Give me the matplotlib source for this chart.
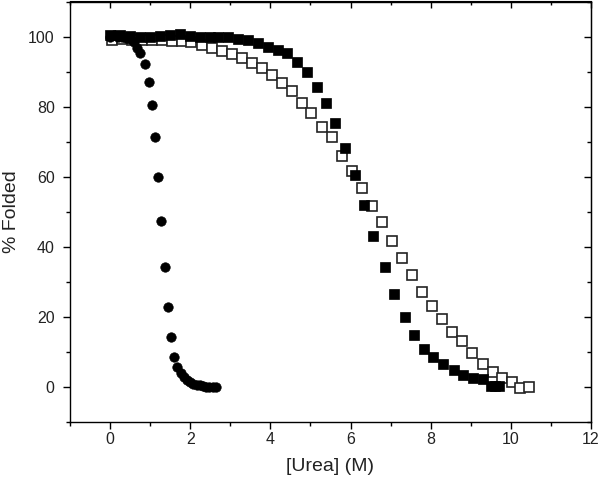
import matplotlib
matplotlib.use("Agg")
import matplotlib.pyplot as plt
from matplotlib.ticker import MultipleLocator

# ---- data ----
circ_x = [0.0, 0.1, 0.2, 0.3, 0.4, 0.5, 0.59, 0.67, 0.75, 0.87, 0.96, 1.04, 1.12, 1.19,
          1.28, 1.36, 1.44, 1.52, 1.60, 1.68, 1.76, 1.84, 1.92, 2.0, 2.08, 2.16, 2.24,
          2.32, 2.40, 2.48, 2.56, 2.64]
circ_y = [100, 100.3, 100, 99.8, 99.6, 99.2, 98.4, 96.8, 95.2, 92.2, 87.1, 80.5, 71.2, 59.8,
          47.3, 34.2, 22.7, 14.3, 8.6, 5.6, 3.8, 2.7, 1.9, 1.3, 0.9, 0.6, 0.4,
          0.2, 0.0, -0.2, -0.2, -0.1]

fill_x = [0.0, 0.25, 0.5, 0.75, 1.0, 1.25, 1.5, 1.75, 2.0, 2.25, 2.5, 2.7, 2.95, 3.2, 3.45,
          3.7, 3.95, 4.2, 4.41, 4.66, 4.91, 5.16, 5.39, 5.62, 5.86, 6.1, 6.33, 6.56, 6.86,
          7.09, 7.36, 7.59, 7.83, 8.07, 8.30, 8.57, 8.80, 9.05, 9.30, 9.5, 9.6, 9.7]
fill_y = [100.3, 100.5, 100.2, 100, 99.8, 100.2, 100.5, 100.8, 100.2, 100, 100, 99.8, 100,
          99.3, 98.9, 98.1, 97.1, 96.2, 95.2, 92.6, 89.8, 85.5, 81.0, 75.4, 68.2, 60.5, 52,
          43, 34.1, 26.4, 20.0, 14.8, 10.7, 8.4, 6.4, 4.8, 3.3, 2.4, 2.1, 0.3, 0.1, 0.2]

open_x = [0.04, 0.29, 0.54, 0.79, 1.04, 1.29, 1.54, 1.79, 2.02, 2.29, 2.54, 2.79, 3.04,
          3.29, 3.54, 3.79, 4.03, 4.28, 4.53, 4.78, 5.01, 5.30, 5.53, 5.78, 6.03, 6.28,
          6.53, 6.78, 7.03, 7.28, 7.53, 7.78, 8.04, 8.29, 8.53, 8.79, 9.04, 9.31, 9.55,
          9.78, 10.03, 10.23, 10.45]
open_y = [98.9, 99.3, 99.1, 98.9, 98.9, 98.9, 98.6, 98.6, 98.3, 97.6, 96.7, 96.0, 95.1,
          93.8, 92.4, 91.0, 89.1, 86.7, 84.3, 81.1, 78.1, 74.3, 71.3, 66.0, 61.5, 56.7,
          51.7, 47.0, 41.6, 36.7, 31.9, 27.0, 22.9, 19.3, 15.7, 13.1, 9.7, 6.5, 4.3,
          2.6, 1.3, -0.5, 0.0]

plt.rcParams['font.family'] = ['Liberation Sans', 'DejaVu Sans']

fig = plt.figure(figsize=(6.0, 4.84), dpi=100)
ax = fig.add_axes([70/600, 1 - 421.7/484, (591-70)/600, (421.7-1.5)/484])

ax.plot(open_x, open_y, 's', ms=6.5, mfc='white', mec='#222222', mew=1.2, ls='none', zorder=3)
ax.plot(fill_x, fill_y, 's', ms=7.2, mfc='black', mec='black', mew=0.5, ls='none', zorder=4)
ax.plot(circ_x, circ_y, 'o', ms=6.8, mfc='black', mec='black', mew=0.5, ls='none', zorder=5)

ax.set_xlim(-1, 12)
ax.set_ylim(-10, 110)
ax.xaxis.set_major_locator(MultipleLocator(2))
ax.xaxis.set_minor_locator(MultipleLocator(1))
ax.yaxis.set_major_locator(MultipleLocator(20))
ax.yaxis.set_minor_locator(MultipleLocator(10))

ax.tick_params(which='major', direction='out', length=5, width=1, labelsize=11.5,
               labelcolor='#222222')
ax.tick_params(axis='y', which='major', pad=6)
ax.tick_params(axis='x', which='major', pad=2.5)
ax.tick_params(which='minor', direction='out', length=2.8, width=1)
for s in ax.spines.values():
    s.set_linewidth(1.0)

top = ax.secondary_xaxis('top')
top.xaxis.set_major_locator(MultipleLocator(2))
top.xaxis.set_minor_locator(MultipleLocator(1))
top.tick_params(which='major', direction='in', length=5, width=1, labeltop=False)
top.tick_params(which='minor', direction='in', length=2.8, width=1)
right = ax.secondary_yaxis('right')
right.yaxis.set_major_locator(MultipleLocator(20))
right.yaxis.set_minor_locator(MultipleLocator(10))
right.tick_params(which='major', direction='in', length=5, width=1, labelright=False)
right.tick_params(which='minor', direction='in', length=2.8, width=1)

ax.set_xlabel('[Urea] (M)', fontsize=14, color='#222222', labelpad=8)
ax.set_ylabel('% Folded', fontsize=14, color='#222222', labelpad=6)

fig.savefig('out.png', dpi=100)
